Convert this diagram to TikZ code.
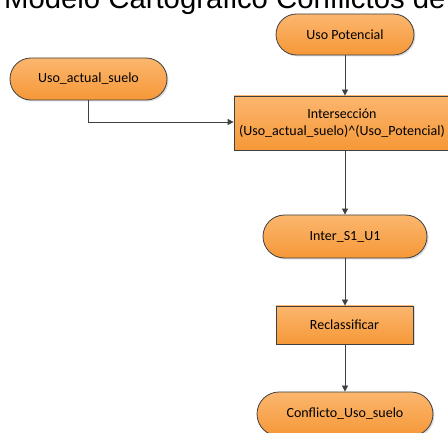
\documentclass[tikz,border=0pt]{standalone}
\usepackage{fontspec}
\setmainfont{Carlito}
\newfontfamily\titlefont{Liberation Sans}
\usetikzlibrary{shapes.misc,arrows.meta}
\definecolor{orangeTop}{RGB}{251,182,110}
\definecolor{orangeBot}{RGB}{246,152,56}
\definecolor{edgeGray}{RGB}{64,64,64}
\newcommand{\boxfont}{\fontsize{14pt}{17pt}\selectfont}
\tikzset{
  boxbase/.style={draw=edgeGray, line width=0.8pt, top color=orangeTop, bottom color=orangeBot,
    font=\boxfont, align=center, inner sep=0pt},
  pill/.style={boxbase, rounded rectangle},
  stepbox/.style={boxbase, rectangle},
  shadowpill/.style={rounded rectangle, fill=black, opacity=0.14, draw=none, inner sep=0pt},
  shadowbox/.style={rectangle, fill=black, opacity=0.14, draw=none, inner sep=0pt},
  flow/.style={draw=edgeGray, line width=0.8pt, -{Triangle[width=6pt,length=6pt]}}
}
\begin{document}
\begin{tikzpicture}[x=1pt,y=1pt]
\useasboundingbox (0,0) rectangle (448,-433);
\clip (0,0) rectangle (448,-433);
% title, running off the top edge
\node[anchor=base west, inner sep=0pt, font=\titlefont\fontsize{29.3pt}{32pt}\selectfont] (title) at (4,-9) {Modelo Cartográfico Conflictos de};
% soft shadows behind the boxes
\node[shadowpill, minimum width=138pt, minimum height=41pt] (potS) at (346.5,-36) {};
\node[shadowpill, minimum width=157pt, minimum height=42pt] (actS) at (90,-80.5) {};
\node[shadowbox, minimum width=216pt, minimum height=54pt] (interS) at (343.5,-124.5) {};
\node[shadowpill, minimum width=164pt, minimum height=43pt] (intsS) at (346.5,-238) {};
\node[shadowbox, minimum width=137pt, minimum height=38pt] (reclS) at (346,-326.5) {};
\node[shadowpill, minimum width=176pt, minimum height=44pt] (confS) at (346.5,-415.5) {};
% boxes
\node[pill, minimum width=138pt, minimum height=41pt] (pot) at (345,-34.5) {Uso Potencial};
\node[pill, minimum width=157pt, minimum height=42pt] (act) at (88.5,-79) {Uso\_actual\_suelo};
\node[stepbox, minimum width=216pt, minimum height=54pt] (inter) at (342,-123) {Intersección\\(Uso\_actual\_suelo)\^{}(Uso\_Potencial)};
\node[pill, minimum width=164pt, minimum height=43pt] (ints) at (345,-236.5) {Inter\_S1\_U1};
\node[stepbox, minimum width=137pt, minimum height=38pt] (recl) at (344.5,-325) {Reclassificar};
\node[pill, minimum width=176pt, minimum height=44pt] (conf) at (345,-414) {Conflicto\_Uso\_suelo};
% connectors
\draw[flow] (act.south) |- (inter.west |- 0,-122);
\draw[flow] (pot.south) -- (pot.south |- inter.north);
\draw[flow] (inter.south -| ints.north) -- (ints.north);
\draw[flow] (ints.south) -- (recl.north -| ints.south);
\draw[flow] (recl.south -| conf.north) -- (conf.north);
\end{tikzpicture}
\end{document}
